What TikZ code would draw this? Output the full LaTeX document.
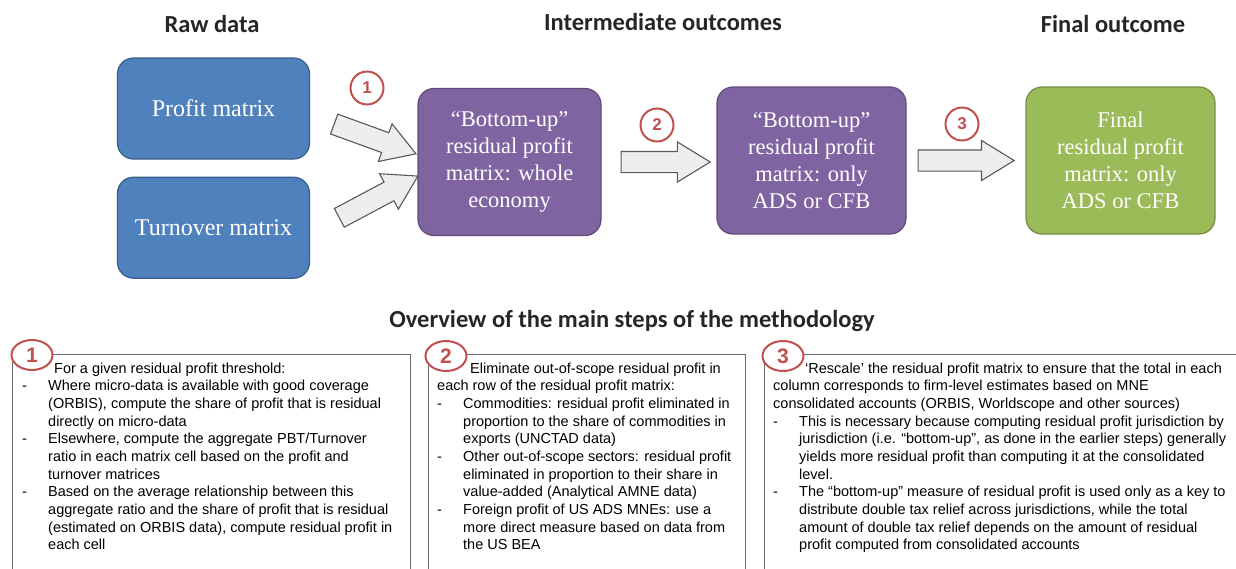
\documentclass[tikz,border=0pt]{standalone}
\usepackage{fontspec}
\setmainfont{Liberation Serif}
\newfontfamily\headfont{Carlito}
\newfontfamily\bodyfont{Liberation Sans}
\usetikzlibrary{positioning, shapes.arrows, shapes.geometric}
\definecolor{rawblue}{HTML}{4F81BD}
\definecolor{midpurple}{HTML}{8064A2}
\definecolor{fingreen}{HTML}{9BBB59}
\definecolor{numred}{HTML}{C0504D}
\definecolor{arrowfill}{HTML}{EEEEEE}
\definecolor{arrowline}{HTML}{595959}
\definecolor{boxgray}{HTML}{6E6E6E}
\definecolor{headgray}{HTML}{262626}
\newcommand{\bitem}{\makebox[26pt][l]{-}}
\newcommand{\bcont}{\hspace*{26pt}}

\begin{document}
\begin{tikzpicture}[x=1pt,y=-1pt,
  box/.style={rounded corners=16pt, line width=1.2pt, minimum width=189, minimum height=147,
    text=white, align=center, inner sep=0pt, font=\fontsize{22.5}{27}\selectfont},
  rawbox/.style={box, fill=rawblue, draw=rawblue!72!black, minimum width=192, minimum height=101,
    font=\fontsize{24}{27}\selectfont},
  midbox/.style={box, fill=midpurple, draw=midpurple!75!black},
  finbox/.style={box, fill=fingreen, draw=fingreen!75!black},
  blockarrow/.style={single arrow, draw=arrowline, fill=arrowfill, line width=1.1pt,
    inner xsep=0pt, inner ysep=10pt, single arrow head extend=9.5pt, single arrow tip angle=63},
  num/.style={circle, draw=numred, line width=2pt, fill=white, text=numred, inner sep=0pt,
    minimum size=33, font=\bodyfont\bfseries\fontsize{17}{17}\selectfont},
  bignum/.style={ellipse, draw=numred, line width=2pt, fill=white, text=numred, inner sep=0pt,
    minimum width=41, minimum height=30, font=\bodyfont\bfseries\fontsize{21}{21}\selectfont},
  head/.style={text=headgray, font=\headfont\bfseries\fontsize{24.5}{24.5}\selectfont},
  stepbox/.style={draw=boxgray, line width=1.2pt, anchor=north west, minimum height=260},
  steptext/.style={anchor=base west, align=left, inner sep=0pt,
    font=\bodyfont\fontsize{14.5}{17.67}\selectfont}]
\useasboundingbox (0,0) rectangle (1236,568);
\clip (0,0) rectangle (1236,568);

% top row
\node[head] (hraw) at (212,24) {Raw data};
\node[head] (hmid) at (663,22) {Intermediate outcomes};
\node[head] (hfin) at (1113,24) {Final outcome};

\node[rawbox] (pm) at (213.5,108.5) {Profit matrix};
\node[rawbox, below=17pt of pm] (tm) {Turnover matrix};
\node[midbox, minimum width=183] (bu1) at (509.5,162) {“Bottom-up”\\residual profit\\matrix: whole\\economy};
\node[midbox] (bu2) at (811.5,160.5) {“Bottom-up”\\residual profit\\matrix: only\\ADS or CFB};
\node[finbox] (fin) at (1120.5,160.5) {Final\\residual profit\\matrix: only\\ADS or CFB};

\node[blockarrow, minimum height=87, rotate=-20] (a1) at (367,136) {};
\node[blockarrow, minimum height=89, rotate=28] (b1) at (371,201) {};
\node[blockarrow, minimum height=89, right=19pt of bu1] (a2) {};
\node[blockarrow, minimum height=96, right=11pt of bu2] (a3) {};

\node[num] (n1) at (367,88) {1};
\node[num] (n2) at (657,125) {2};
\node[num] (n3) at (962,124) {3};

% steps
\node[head] (hsteps) at (632,321) {Overview of the main steps of the methodology};

\node[stepbox, minimum width=398] (s1) at (12,354) {};
\node[stepbox, minimum width=317] (s2) at (428,354) {};
\node[stepbox, minimum width=500] (s3) at (764,354) {};

\node[steptext] (t1) at (22,549.7) {\hspace*{32pt}For a given residual profit threshold:\\
\bitem Where micro-data is available with good coverage\\
\bcont (ORBIS), compute the share of profit that is residual\\
\bcont directly on micro-data\\
\bitem Elsewhere, compute the aggregate PBT/Turnover\\
\bcont ratio in each matrix cell based on the profit and\\
\bcont turnover matrices\\
\bitem Based on the average relationship between this\\
\bcont aggregate ratio and the share of profit that is residual\\
\bcont (estimated on ORBIS data), compute residual profit in\\
\bcont each cell};
\node[steptext] (t2) at (437,549.7) {\hspace*{33pt}Eliminate out-of-scope residual profit in\\
each row of the residual profit matrix:\\
\bitem Commodities: residual profit eliminated in\\
\bcont proportion to the share of commodities in\\
\bcont exports (UNCTAD data)\\
\bitem Other out-of-scope sectors: residual profit\\
\bcont eliminated in proportion to their share in\\
\bcont value-added (Analytical AMNE data)\\
\bitem Foreign profit of US ADS MNEs: use a\\
\bcont more direct measure based on data from\\
\bcont the US BEA};
\node[steptext] (t3) at (773,549.7) {\hspace*{32pt}‘Rescale’ the residual profit matrix to ensure that the total in each\\
column corresponds to firm-level estimates based on MNE\\
consolidated accounts (ORBIS, Worldscope and other sources)\\
\bitem This is necessary because computing residual profit jurisdiction by\\
\bcont jurisdiction (i.e. “bottom-up”, as done in the earlier steps) generally\\
\bcont yields more residual profit than computing it at the consolidated\\
\bcont level.\\
\bitem The “bottom-up” measure of residual profit is used only as a key to\\
\bcont distribute double tax relief across jurisdictions, while the total\\
\bcont amount of double tax relief depends on the amount of residual\\
\bcont profit computed from consolidated accounts};

\node[bignum] (c1) at (32,355) {1};
\node[bignum] (c2) at (446,356) {2};
\node[bignum] (c3) at (783,356) {3};
\end{tikzpicture}
\end{document}
